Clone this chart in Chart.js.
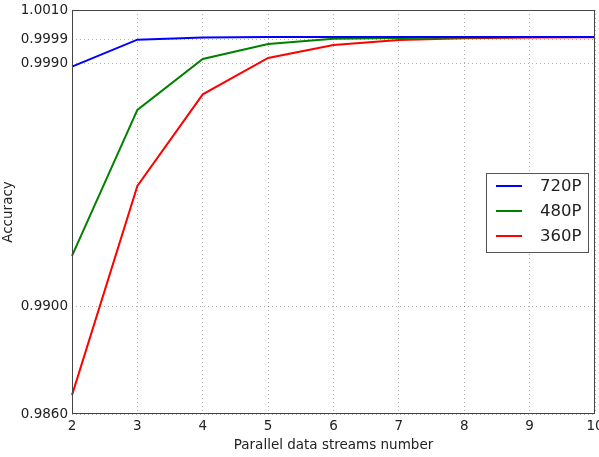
<!DOCTYPE html>
<html>
<head>
<meta charset="utf-8">
<script src="https://cdn.jsdelivr.net/npm/chart.js@4/dist/chart.umd.min.js"></script>
<style>
html,body{margin:0;padding:0;background:#fff;}
#wrap{width:599px;height:457px;position:relative;}
</style>
</head>
<body>
<div id="wrap"><canvas id="c" width="599" height="457"></canvas></div>
<script>
const streams = [2, 3, 4, 5, 6, 7, 8, 9, 10];
const acc720 = [0.99890, 0.99990, 0.99998, 1.00000, 1.00000, 1.00000, 1.00000, 1.00000, 1.00000];
const acc480 = [0.99187, 0.99729, 0.99918, 0.99974, 0.99993, 0.99996, 0.99998, 1.00000, 1.00000];
const acc360 = [0.98670, 0.99447, 0.99787, 0.99922, 0.99970, 0.99989, 0.99995, 0.99998, 0.99999];
const yTicks = [0.9860, 0.9900, 0.9990, 0.9999, 1.0010];
const seriesNames = ['720P', '480P', '360P'];
const seriesColors = ['#0000ff', '#008000', '#ff0000'];

const FONT = "'DejaVu Sans', sans-serif";
const TXT = '#222';

function pts(vals){ return streams.map((s,i)=>({x:s, y:vals[i]})); }

const legendPlugin = {
  id: 'boxLegend',
  afterDatasetsDraw(chart){
    const ctx = chart.ctx, a = chart.chartArea;
    const w = 102, h = 79;
    const right = a.right - 7;
    const left = right - w;
    const top = (a.top + a.bottom)/2 - h/2;
    ctx.save();
    ctx.fillStyle = '#fff';
    ctx.fillRect(left, top, w, h);
    ctx.strokeStyle = '#555';
    ctx.lineWidth = 1;
    ctx.strokeRect(Math.round(left)+0.5, Math.round(top)+0.5, w, h);
    ctx.font = "16.5px " + FONT;
    ctx.textBaseline = 'middle';
    ctx.textAlign = 'left';
    chart.data.datasets.forEach((ds, i) => {
      const y = top + 13.5 + i*25;
      ctx.strokeStyle = ds.borderColor;
      ctx.lineWidth = 2;
      ctx.beginPath();
      ctx.moveTo(left + 10, y);
      ctx.lineTo(left + 36, y);
      ctx.stroke();
      ctx.fillStyle = TXT;
      ctx.fillText(ds.label, left + 54, y + 1);
    });
    ctx.restore();
  }
};

const framePlugin = {
  id: 'frame',
  afterDatasetsDraw(chart){
    const ctx = chart.ctx, a = chart.chartArea;
    ctx.save();
    ctx.strokeStyle = '#444';
    ctx.lineWidth = 1;
    ctx.strokeRect(Math.round(a.left)+0.5, Math.round(a.top)+0.5, Math.round(a.right-a.left)-1, Math.round(a.bottom-a.top)-1);
    ctx.restore();
  }
};

new Chart(document.getElementById('c'), {
  type: 'line',
  data: {
    datasets: [
      {label: seriesNames[0], data: pts(acc720), borderColor: seriesColors[0]},
      {label: seriesNames[1], data: pts(acc480), borderColor: seriesColors[1]},
      {label: seriesNames[2], data: pts(acc360), borderColor: seriesColors[2]}
    ].map(d => Object.assign(d, {borderWidth: 2, pointRadius: 0, fill: false, tension: 0, clip: false}))
  },
  options: {
    responsive: false,
    animation: false,
    devicePixelRatio: 1,
    layout: {padding: {top: 10, right: 4, left: 0, bottom: 0}},
    plugins: {legend: {display: false}, tooltip: {enabled: false}},
    scales: {
      x: {
        type: 'linear', min: 2, max: 10,
        ticks: {stepSize: 1, color: TXT, font: {family: FONT, size: 13.5}, padding: 4, maxRotation: 0},
        grid: {color: 'rgba(0,0,0,0.3)', lineWidth: 1, drawTicks: false},
        border: {display: false, dash: [1, 3]},
        title: {display: true, text: 'Parallel data streams number', color: TXT, font: {family: FONT, size: 13.5}, padding: {top: 0, bottom: 3}},
        afterFit(s){ s.height = 43; s.paddingLeft = 0; s.paddingRight = 0; }
      },
      y: {
        type: 'linear', min: 0.986, max: 1.001,
        afterBuildTicks(s){ s.ticks = yTicks.map(v => ({value: v})); },
        ticks: {color: TXT, font: {family: FONT, size: 13.5}, padding: 4, callback: v => Number(v).toFixed(4)},
        grid: {color: 'rgba(0,0,0,0.3)', lineWidth: 1, drawTicks: false},
        border: {display: false, dash: [1, 3]},
        title: {display: true, text: 'Accuracy', color: TXT, font: {family: FONT, size: 13.5}, padding: {top: 0, bottom: 0}},
        afterFit(s){ s.width = 72; s.paddingTop = 0; s.paddingBottom = 0; }
      }
    }
  },
  plugins: [framePlugin, legendPlugin]
});
</script>
</body>
</html>
